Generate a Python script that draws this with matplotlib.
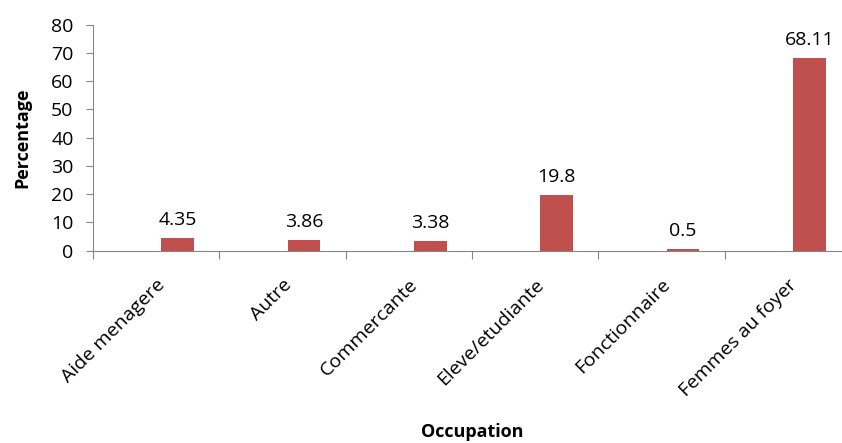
import matplotlib.pyplot as plt
import numpy as np

categories = ["Aide menagere", "Autre", "Commercante", "Eleve/etudiante",
              "Fonctionnaire", "Femmes au foyer"]
values = [4.35, 3.86, 3.38, 19.8, 0.5, 68.11]
value_labels = ["4.35", "3.86", "3.38", "19.8", "0.5", "68.11"]

plt.rcParams['font.family'] = ['Open Sans', 'DejaVu Sans']

fig = plt.figure(figsize=(8.42, 4.43), dpi=100)
# plot area runs past the right edge, as in the original
ax = fig.add_axes([93 / 842, (443 - 250.7) / 443, 758 / 842, 226 / 443])

x = np.arange(len(categories))
bar_pos = x + 0.17
ax.bar(bar_pos, values, width=0.26, color='#C0504D', zorder=3)

for xp, v, lab in zip(bar_pos, values, value_labels):
    ax.text(xp, v + 3.2, lab, ha='center', va='bottom', fontsize=14)

ax.set_xlim(-0.5, len(categories) - 0.5)
ax.set_ylim(0, 80)
ax.set_yticks(range(0, 81, 10))
ax.set_xticks(np.arange(-0.5, len(categories), 1.0))
ax.set_xticklabels([])
ax.set_xticks(x, minor=True)
ax.set_xticklabels(categories, minor=True, rotation=45, ha='right',
                   rotation_mode='anchor', fontsize=14)

grey = '#868686'
for s in ['top', 'right']:
    ax.spines[s].set_visible(False)
for s in ['left', 'bottom']:
    ax.spines[s].set_color(grey)
ax.tick_params(axis='y', colors=grey, labelcolor='black', labelsize=14,
               length=5, direction='out', pad=9)
ax.tick_params(axis='x', which='major', colors=grey, length=6, direction='out')
ax.tick_params(axis='x', which='minor', length=0, pad=18, labelcolor='black')

fig.text(22 / 842, 1 - 138 / 443, "Percentage", rotation=90, ha='center',
         va='center', fontsize=13, fontweight='bold')
fig.text(472 / 842, 1 - 432 / 443, "Occupation", ha='center', va='center',
         fontsize=13, fontweight='bold')

fig.savefig('out.png', dpi=100)
